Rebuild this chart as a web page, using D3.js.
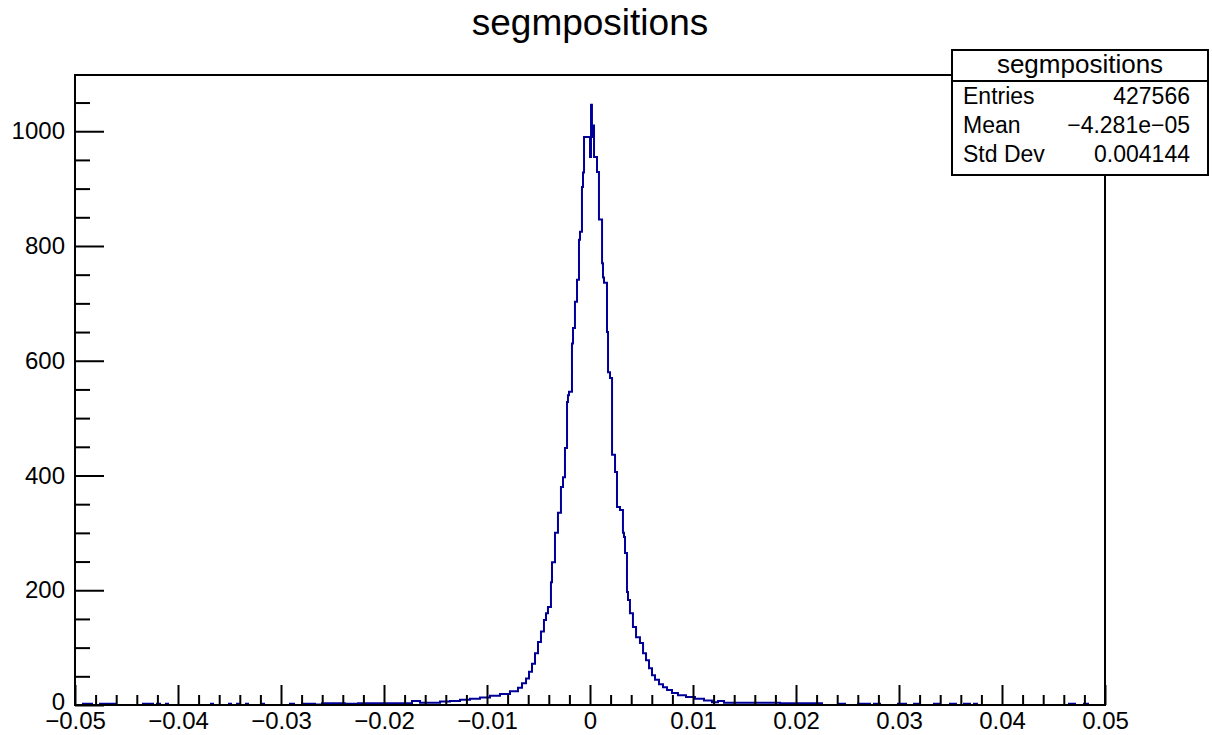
<!DOCTYPE html>
<html>
<head>
<meta charset="utf-8">
<script src="https://cdn.jsdelivr.net/npm/d3@7"></script>
<style>
  html, body { margin: 0; padding: 0; background: #fff; }
  svg { display: block; font-family: "Liberation Sans", Arial, Helvetica, sans-serif; }
</style>
</head>
<body>
<svg id="chart" width="1212" height="735"></svg>
<script>
// histogram "segmpositions" (variable bin edges)
const binEdges = [
  -0.05000, -0.04922, -0.04835, -0.04757, -0.04612, -0.04340, -0.04243, -0.04204,
  -0.04175, -0.04117, -0.04097, -0.03680, -0.03660, -0.03505, -0.03485, -0.03427,
  -0.03408, -0.03340, -0.03320, -0.03184, -0.03165, -0.02913, -0.02874, -0.02796,
  -0.02670, -0.02602, -0.02379, -0.02252, -0.01728, -0.01650, -0.01456, -0.01359,
  -0.01262, -0.01165, -0.01068, -0.00971, -0.00874, -0.00777, -0.00699, -0.00660,
  -0.00621, -0.00592, -0.00563, -0.00534, -0.00505, -0.00476, -0.00447, -0.00427,
  -0.00408, -0.00379, -0.00369, -0.00340, -0.00311, -0.00282, -0.00262, -0.00243,
  -0.00223, -0.00214, -0.00204, -0.00175, -0.00165, -0.00146, -0.00126, -0.00107,
  -0.00097, -0.00078, -0.00068, -0.00058, 0.00000, 0.00010, 0.00019, 0.00029,
  0.00039, 0.00068, 0.00087, 0.00117, 0.00126, 0.00136, 0.00165, 0.00175,
  0.00194, 0.00214, 0.00243, 0.00262, 0.00291, 0.00320, 0.00330, 0.00340,
  0.00359, 0.00369, 0.00388, 0.00417, 0.00447, 0.00485, 0.00515, 0.00544,
  0.00573, 0.00602, 0.00631, 0.00670, 0.00709, 0.00748, 0.00796, 0.00854,
  0.00932, 0.01019, 0.01107, 0.01184, 0.01243, 0.01301, 0.01845, 0.02252,
  0.02408, 0.02476, 0.02602, 0.02718, 0.02757, 0.02816, 0.02990, 0.03068,
  0.03146, 0.03204, 0.03340, 0.03398, 0.03495, 0.03553, 0.03631, 0.03689,
  0.03728, 0.03757, 0.04650, 0.04709, 0.04796, 0.04835, 0.05000
];
const binCounts = [
  0, 2, 0, 2, 0, 2, 0, 2,
  0, 2, 0, 2, 0, 2, 0, 2,
  0, 2, 0, 2, 0, 2, 0, 2,
  1, 3, 2, 3, 7, 4, 6, 7,
  9, 11, 13, 16, 19, 24, 30, 38,
  46, 58, 72, 90, 110, 128, 148, 160,
  171, 214, 249, 300, 335, 380, 397, 448,
  528, 540, 546, 630, 657, 703, 741, 811,
  825, 903, 928, 990, 955, 1046, 990, 1010,
  955, 929, 846, 770, 745, 736, 650, 580,
  570, 436, 406, 345, 340, 300, 293, 265,
  197, 183, 160, 136, 118, 108, 90, 78,
  64, 52, 44, 36, 31, 26, 21, 17,
  14, 11, 8, 5, 7, 4, 3, 0,
  2, 0, 2, 0, 2, 0, 2, 0,
  2, 0, 2, 0, 2, 0, 2, 0,
  2, 0, 2, 0, 2, 0
];

const xTicks = [-0.05, -0.04, -0.03, -0.02, -0.01, 0, 0.01, 0.02, 0.03, 0.04, 0.05];
const xTickLabels = ["\u22120.05", "\u22120.04", "\u22120.03", "\u22120.02", "\u22120.01", "0",
  "0.01", "0.02", "0.03", "0.04", "0.05"];
const yTicks = [0, 200, 400, 600, 800, 1000];
const yTickLabels = ["0", "200", "400", "600", "800", "1000"];

const histTitle = "segmpositions";
const statNames = ["Entries", "Mean", "Std Dev"];
const statValues = ["427566", "\u22124.281e\u221205", "0.004144"];

const width = 1212, height = 735;
const margin = { left: 75, right: 107, top: 75, bottom: 30 };
const plotW = width - margin.left - margin.right;
const plotH = height - margin.top - margin.bottom;

const svg = d3.select("#chart");

const x = d3.scaleLinear().domain([-0.05, 0.05]).range([margin.left, margin.left + plotW]);
const y = d3.scaleLinear().domain([0, 1098]).range([margin.top + plotH, margin.top]);

// minor ticks, 5 divisions on x, 4 on y
const xMinor = d3.range(-0.05, 0.05001, 0.002).map(v => +v.toFixed(3))
  .filter(v => !xTicks.some(t => Math.abs(t - v) < 1e-9));
const yMinor = d3.range(0, 1098, 50).filter(v => v % 200 !== 0);

// histogram outline
const pts = [];
const n = Math.min(binCounts.length, binEdges.length - 1);
for (let i = 0; i < n; i++) {
  pts.push([binEdges[i], binCounts[i]]);
  pts.push([binEdges[i + 1], binCounts[i]]);
}
svg.append("defs").append("clipPath").attr("id", "frameClip")
  .append("rect")
  .attr("x", margin.left).attr("y", margin.top)
  .attr("width", plotW).attr("height", plotH);

const line = d3.line().x(d => x(d[0])).y(d => y(d[1]));
svg.append("path")
  .datum(pts)
  .attr("clip-path", "url(#frameClip)")
  .attr("fill", "none")
  .attr("stroke", "#000099")
  .attr("stroke-width", 2)
  .attr("d", line);

// axes
const xAxisG = svg.append("g")
  .attr("transform", `translate(0, ${margin.top + plotH})`);
xAxisG.append("g").call(d3.axisBottom(x).tickValues(xMinor).tickSize(-10).tickFormat(""));
xAxisG.append("g").call(d3.axisBottom(x).tickValues(xTicks).tickSize(-20).tickPadding(7)
  .tickFormat((d, i) => xTickLabels[i]));

const yAxisG = svg.append("g")
  .attr("transform", `translate(${margin.left}, 0)`);
yAxisG.append("g").call(d3.axisLeft(y).tickValues(yMinor).tickSize(-15).tickFormat(""));
yAxisG.append("g").call(d3.axisLeft(y).tickValues(yTicks).tickSize(-29).tickPadding(10)
  .tickFormat((d, i) => yTickLabels[i]));

svg.selectAll(".domain").remove();
svg.selectAll(".tick line").attr("stroke", "#000").attr("stroke-width", 2);
svg.selectAll(".tick text").attr("font-size", 24).attr("fill", "#000")
  .attr("font-family", "Liberation Sans, Arial, sans-serif");
// the "0" on y sits just above the x labels, as in the original
yAxisG.selectAll(".tick text").filter(d => d === 0).attr("dy", "0.2em");

// frame
svg.append("rect")
  .attr("x", margin.left).attr("y", margin.top)
  .attr("width", plotW).attr("height", plotH)
  .attr("fill", "none").attr("stroke", "#000").attr("stroke-width", 2);

// title
svg.append("text")
  .attr("x", 590).attr("y", 35)
  .attr("text-anchor", "middle")
  .attr("font-size", 37)
  .text(histTitle);

// stats box
const box = { x: 952, y: 50, w: 256, h: 125, head: 31, row: 29 };
const sb = svg.append("g");
sb.append("rect")
  .attr("x", box.x).attr("y", box.y).attr("width", box.w).attr("height", box.h)
  .attr("fill", "#fff").attr("stroke", "#000").attr("stroke-width", 2);
sb.append("line")
  .attr("x1", box.x).attr("x2", box.x + box.w)
  .attr("y1", box.y + box.head).attr("y2", box.y + box.head)
  .attr("stroke", "#000").attr("stroke-width", 2);
sb.append("text")
  .attr("x", box.x + box.w / 2).attr("y", box.y + 23)
  .attr("text-anchor", "middle").attr("font-size", 26)
  .text(histTitle);
statNames.forEach((name, i) => {
  const by = box.y + box.head + 23 + i * box.row;
  sb.append("text").attr("x", box.x + 11).attr("y", by)
    .attr("font-size", 23).text(name);
  sb.append("text").attr("x", box.x + box.w - 18).attr("y", by)
    .attr("text-anchor", "end").attr("font-size", 23).text(statValues[i]);
});
</script>
</body>
</html>
